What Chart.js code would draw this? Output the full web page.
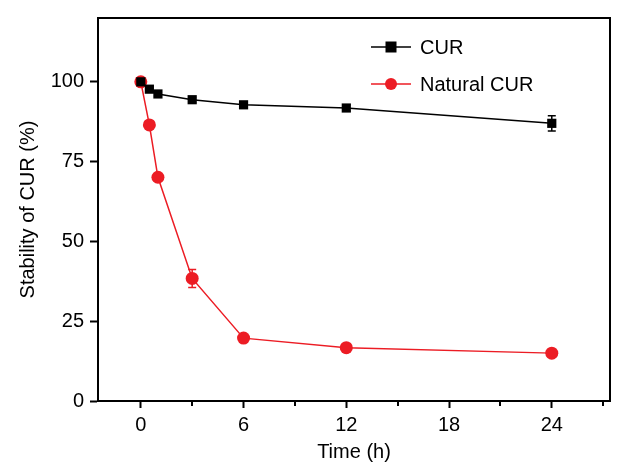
<!DOCTYPE html>
<html>
<head>
<meta charset="utf-8">
<script src="https://cdn.jsdelivr.net/npm/chart.js@4.4.1/dist/chart.umd.min.js"></script>
<style>
  html, body { margin: 0; padding: 0; background: #fff; }
  #wrap { width: 617px; height: 468px; }
</style>
</head>
<body>
<div id="wrap"><canvas id="stabChart" width="617" height="468"></canvas></div>
<script>
// data
const timeH = [0, 0.5, 1, 3, 6, 12, 24];
const curVals = [100, 97.7, 96.2, 94.4, 92.8, 91.8, 87.0];
const curErr = [0.6, 0.8, 0.6, 0.8, 0.8, 1.0, 2.4];
const natVals = [100, 86.5, 70.1, 38.4, 19.7, 16.7, 15.0];
const natErr = [0.6, 0.8, 0.6, 2.8, 0.8, 0.8, 0.6];
const xTicks = [0, 6, 12, 18, 24];
const xMinor = [3, 9, 15, 21, 27];
const yTicks = [0, 25, 50, 75, 100];

const RED = '#ec1c24';
const FONT = '"Liberation Sans", Arial, Helvetica, sans-serif';

function pts(xs, ys) {
    return xs.map((x, i) => ({ x: x, y: ys[i] }));
}

// error bars, drawn under the markers
const errorBars = {
    id: 'errorBars',
    beforeDatasetsDraw(chart) {
        const ctx = chart.ctx;
        const xs = chart.scales.x, ys = chart.scales.y;
        chart.data.datasets.forEach(ds => {
            if (!ds.errors) return;
            ctx.save();
            ctx.strokeStyle = ds.borderColor;
            ctx.lineWidth = 1.5;
            ds.data.forEach((p, i) => {
                const e = ds.errors[i];
                const px = xs.getPixelForValue(p.x);
                const top = ys.getPixelForValue(p.y + e);
                const bot = ys.getPixelForValue(p.y - e);
                ctx.beginPath();
                ctx.moveTo(px, top); ctx.lineTo(px, bot);
                ctx.moveTo(px - 4, top); ctx.lineTo(px + 4, top);
                ctx.moveTo(px - 4, bot); ctx.lineTo(px + 4, bot);
                ctx.stroke();
            });
            ctx.restore();
        });
    }
};

// frame box + minor ticks on x
const frame = {
    id: 'frame',
    afterDraw(chart) {
        const { ctx, chartArea: a } = chart;
        const xs = chart.scales.x;
        ctx.save();
        ctx.strokeStyle = '#000';
        ctx.lineWidth = 2;
        ctx.strokeRect(a.left, a.top, a.right - a.left, a.bottom - a.top);
        ctx.beginPath();
        xMinor.forEach(v => {
            const px = Math.round(xs.getPixelForValue(v));
            ctx.moveTo(px, a.bottom);
            ctx.lineTo(px, a.bottom + 5);
        });
        ctx.stroke();
        ctx.restore();
    }
};

// legend inside the plot, upper right
const innerLegend = {
    id: 'innerLegend',
    afterDraw(chart) {
        const ctx = chart.ctx;
        ctx.save();
        ctx.font = '20px ' + FONT;
        ctx.textBaseline = 'middle';
        chart.data.datasets.forEach((ds, i) => {
            const y = 47 + i * 37;
            const x0 = 371, x1 = 411, xm = 391;
            ctx.strokeStyle = ds.borderColor;
            ctx.lineWidth = 1.5;
            ctx.beginPath();
            ctx.moveTo(x0, y); ctx.lineTo(x1, y);
            ctx.stroke();
            ctx.fillStyle = ds.borderColor;
            if (ds.pointStyle === 'rect') {
                ctx.fillRect(xm - 5.5, y - 5.5, 11, 11);
            } else {
                ctx.beginPath();
                ctx.arc(xm, y, 6, 0, Math.PI * 2);
                ctx.fill();
            }
            ctx.fillStyle = '#000';
            ctx.fillText(ds.label, 420, y + 1);
        });
        ctx.restore();
    }
};

const ctx = document.getElementById('stabChart').getContext('2d');
new Chart(ctx, {
    type: 'line',
    data: {
        datasets: [
            {
                label: 'CUR',
                data: pts(timeH, curVals),
                errors: curErr,
                borderColor: '#000',
                backgroundColor: '#000',
                borderWidth: 1.5,
                pointStyle: 'rect',
                pointRadius: 6.5,
                pointBorderWidth: 0,
                tension: 0
            },
            {
                label: 'Natural CUR',
                data: pts(timeH, natVals),
                errors: natErr,
                borderColor: RED,
                backgroundColor: RED,
                borderWidth: 1.5,
                pointStyle: 'circle',
                pointRadius: 6.5,
                pointBorderWidth: 0,
                tension: 0
            }
        ]
    },
    options: {
        responsive: false,
        animation: false,
        events: [],
        layout: { padding: { top: 16, right: 7, left: 12, bottom: 0 } },
        plugins: {
            legend: { display: false },
            tooltip: { enabled: false }
        },
        scales: {
            x: {
                type: 'linear',
                min: -2.5,
                max: 27.4,
                afterBuildTicks: axis => { axis.ticks = xTicks.map(v => ({ value: v })); },
                afterFit: axis => { axis.height = 67; },
                grid: { drawOnChartArea: false, tickLength: 7, tickWidth: 2, tickColor: '#000' },
                border: { display: true, color: '#000', width: 2 },
                ticks: { color: '#000', font: { family: FONT, size: 20 }, padding: 5, maxRotation: 0 },
                title: { display: true, text: 'Time (h)', color: '#000', font: { family: FONT, size: 20 }, padding: { top: 3 } }
            },
            y: {
                min: 0,
                max: 120,
                afterBuildTicks: axis => { axis.ticks = yTicks.map(v => ({ value: v })); },
                afterFit: axis => { axis.width = 86; },
                grid: { drawOnChartArea: false, tickLength: 8, tickWidth: 2, tickColor: '#000' },
                border: { display: true, color: '#000', width: 2 },
                ticks: { color: '#000', font: { family: FONT, size: 20 }, padding: 6 },
                title: { display: true, text: 'Stability of CUR (%)', color: '#000', font: { family: FONT, size: 20 }, padding: { bottom: 6 } }
            }
        }
    },
    plugins: [errorBars, frame, innerLegend]
});
</script>
</body>
</html>
